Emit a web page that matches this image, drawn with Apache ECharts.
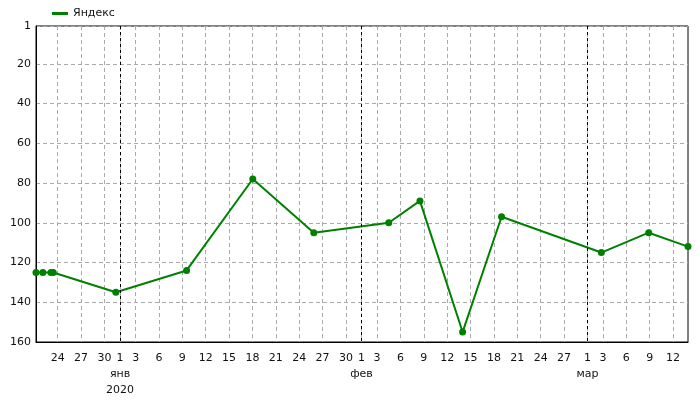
<!DOCTYPE html>
<html>
<head>
<meta charset="utf-8">
<script src="https://cdn.jsdelivr.net/npm/echarts@6/dist/echarts.min.js"></script>
<style>html,body{margin:0;padding:0;background:#fff}#c{width:700px;height:400px}</style>
</head>
<body>
<div id="c"></div>
<script>
var seriesName = 'Яндекс';
var dates = ['2019-12-21 05:00','2019-12-22 02:00','2019-12-23 03:00','2019-12-23 10:00','2019-12-31 11:00',
  '2020-01-09 13:00','2020-01-18 01:00','2020-01-25 21:00','2020-02-04 12:00','2020-02-08 12:00',
  '2020-02-13 23:30','2020-02-18 23:30','2020-03-02 19:00','2020-03-08 21:00','2020-03-13 22:00'];
var ranks = [125,125,125,125,135,124,78,105,100,89,155,97,115,105,112];
var tickDates = ['2019-12-24','2019-12-27','2019-12-30','2020-01-01','2020-01-03','2020-01-06','2020-01-09',
  '2020-01-12','2020-01-15','2020-01-18','2020-01-21','2020-01-24','2020-01-27','2020-01-30','2020-02-01',
  '2020-02-03','2020-02-06','2020-02-09','2020-02-12','2020-02-15','2020-02-18','2020-02-21','2020-02-24',
  '2020-02-27','2020-03-01','2020-03-03','2020-03-06','2020-03-09','2020-03-12'];
var tickLabels = ['24','27','30','1\nянв\n2020','3','6','9','12','15','18','21','24','27','30','1\nфев',
  '3','6','9','12','15','18','21','24','27','1\nмар','3','6','9','12'];
var monthStarts = ['2020-01-01','2020-02-01','2020-03-01'];
var yTicks = [1,20,40,60,80,100,120,140,160];

function ts(s){ return echarts.time.parse(s).getTime(); }
var dateTs = dates.map(ts);
var tickTs = tickDates.map(ts);
var labelMap = {};
tickTs.forEach(function(t,i){ labelMap[t] = tickLabels[i]; });

var chart = echarts.init(document.getElementById('c'), null, {renderer:'canvas'});
chart.setOption({
  animation:false,
  textStyle:{fontFamily:'DejaVu Sans'},
  legend:{
    left:52, top:8, padding:0, itemWidth:16, itemHeight:3, icon:'rect', itemGap:10,
    textStyle:{fontSize:11, color:'#111', fontFamily:'DejaVu Sans'},
    data:[{name:seriesName}]
  },
  grid:{left:36, right:12, top:26, bottom:58, show:true, borderColor:'#000', borderWidth:1},
  xAxis:{
    type:'value', min:dateTs[0], max:dateTs[dateTs.length-1], scale:true,
    axisLine:{show:true, lineStyle:{color:'#000'}},
    axisTick:{show:false, customValues:tickTs},
    axisLabel:{customValues:tickTs, margin:8, fontSize:11, color:'#111', lineHeight:16, hideOverlap:false,
      formatter:function(v){ return labelMap[v] !== undefined ? labelMap[v] : ''; }},
    splitLine:{show:true, lineStyle:{color:'#aaa', type:[4,3], width:1}}
  },
  yAxis:{
    type:'value', inverse:true, min:1, max:160,
    axisLine:{show:true, lineStyle:{color:'#000'}},
    axisTick:{show:false, customValues:yTicks},
    axisLabel:{customValues:yTicks, margin:5, fontSize:11, color:'#111'},
    splitLine:{show:true, lineStyle:{color:'#aaa', type:[4,3], width:1}}
  },
  series:[{
    name:seriesName, type:'line', clip:false,
    data:dateTs.map(function(t,i){ return [t, ranks[i]]; }),
    symbol:'circle', symbolSize:7, showSymbol:true,
    lineStyle:{color:'#008000', width:2},
    itemStyle:{color:'#008000'},
    markLine:{
      silent:true, symbol:['none','none'], label:{show:false},
      lineStyle:{color:'#000', type:[3,3], width:1},
      data:monthStarts.map(function(m){ return {xAxis:ts(m)}; })
    }
  }]
});
</script>
</body>
</html>
